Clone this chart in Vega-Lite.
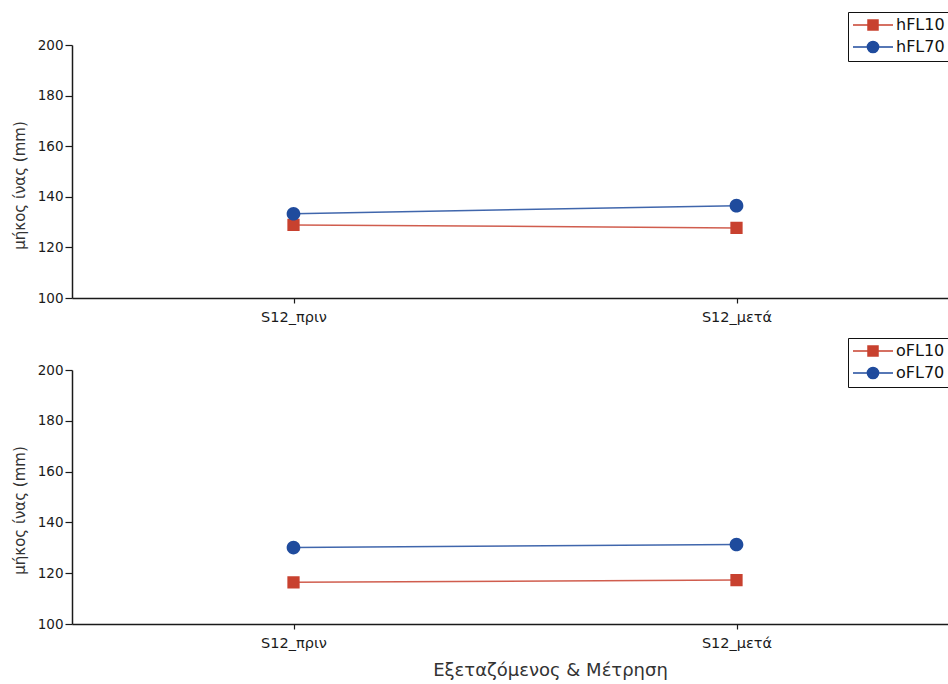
{
  "$schema": "https://vega.github.io/schema/vega-lite/v6.json",
  "padding": {"left": 12, "top": 11, "right": 0, "bottom": 0},
  "background": "white",
  "config": {
    "font": "DejaVu Sans",
    "view": {"stroke": null},
    "axis": {
      "grid": false,
      "domainColor": "#1a1a1a",
      "domainWidth": 1.5,
      "tickColor": "#1a1a1a",
      "tickWidth": 1.2,
      "labelColor": "#1a1a1a",
      "labelFont": "DejaVu Sans",
      "labelFontSize": 13.5,
      "titleFont": "DejaVu Sans",
      "titleFontWeight": "normal",
      "titleColor": "#333333"
    },
    "legend": {
      "title": null, "orient": "none", "direction": "vertical", "legendX": 776,
      "strokeColor": "#111111", "fillColor": "white", "padding": 5,
      "symbolSize": 64, "symbolOffset": 12, "labelOffset": 15, "labelFontSize": 16, "labelColor": "#111111",
      "rowPadding": 5, "symbolStrokeWidth": 1.5, "symbolOpacity": 1
    }
  },
  "data": {
    "values": [
      {"panel": "h", "series": "hFL10", "measure": "S12_πριν", "value": 128.9},
      {"panel": "h", "series": "hFL10", "measure": "S12_μετά", "value": 127.7},
      {"panel": "h", "series": "hFL70", "measure": "S12_πριν", "value": 133.3},
      {"panel": "h", "series": "hFL70", "measure": "S12_μετά", "value": 136.5},
      {"panel": "o", "series": "oFL10", "measure": "S12_πριν", "value": 116.4},
      {"panel": "o", "series": "oFL10", "measure": "S12_μετά", "value": 117.3},
      {"panel": "o", "series": "oFL70", "measure": "S12_πριν", "value": 130.1},
      {"panel": "o", "series": "oFL70", "measure": "S12_μετά", "value": 131.3}
    ]
  },
  "spacing": 72,
  "bounds": "flush",
  "resolve": {"scale": {"color": "independent", "shape": "independent"}, "legend": {"color": "independent", "shape": "independent"}},
  "vconcat": [
    {
      "width": 886,
      "height": 253,
      "transform": [{"filter": "datum.panel == 'h'"}],
      "encoding": {
        "x": {"field": "measure", "type": "ordinal", "sort": ["S12_πριν", "S12_μετά"], "scale": {"type": "point", "padding": 0.5},
          "axis": {"title": null, "labelAngle": 0, "tickSize": 5, "labelPadding": 7, "labelFontSize": 14.5}},
        "y": {"field": "value", "type": "quantitative", "scale": {"domain": [100, 200], "nice": false, "zero": false},
          "axis": {"title": "μήκος ίνας (mm)", "values": [100, 120, 140, 160, 180, 200], "tickSize": 7, "labelPadding": 2, "titlePadding": 10, "titleFontSize": 15, "titleY": 140}},
        "color": {"field": "series", "type": "nominal", "scale": {"domain": ["hFL10", "hFL70"], "range": ["#c8412f", "#1f4b9d"]},
          "legend": {"legendY": -33}}
      },
      "layer": [
        {"mark": {"type": "line", "strokeWidth": 1.5, "opacity": 0.85}},
        {"mark": {"type": "point", "filled": true, "opacity": 1, "size": 96},
          "encoding": {
            "shape": {"field": "series", "type": "nominal",
              "scale": {"domain": ["hFL10", "hFL70"], "range": ["M-5,0H5M-1.25,-1.25H1.25V1.25H-1.25Z", "M-5,0H5M1.4,0A1.4,1.4,0,1,1,-1.4,0A1.4,1.4,0,1,1,1.4,0Z"]},
              "legend": {"legendY": -33}}
          }}
      ]
    },
    {
      "width": 886,
      "height": 254,
      "transform": [{"filter": "datum.panel == 'o'"}],
      "encoding": {
        "x": {"field": "measure", "type": "ordinal", "sort": ["S12_πριν", "S12_μετά"], "scale": {"type": "point", "padding": 0.5},
          "axis": {"title": "Εξεταζόμενος & Μέτρηση", "labelAngle": 0, "tickSize": 5, "labelPadding": 7, "labelFontSize": 14.5, "titleFontSize": 18, "titlePadding": 12, "titleX": 478}},
        "y": {"field": "value", "type": "quantitative", "scale": {"domain": [100, 200], "nice": false, "zero": false},
          "axis": {"title": "μήκος ίνας (mm)", "values": [100, 120, 140, 160, 180, 200], "tickSize": 7, "labelPadding": 2, "titlePadding": 10, "titleFontSize": 15, "titleY": 140}},
        "color": {"field": "series", "type": "nominal", "scale": {"domain": ["oFL10", "oFL70"], "range": ["#c8412f", "#1f4b9d"]},
          "legend": {"legendY": -32}}
      },
      "layer": [
        {"mark": {"type": "line", "strokeWidth": 1.5, "opacity": 0.85}},
        {"mark": {"type": "point", "filled": true, "opacity": 1, "size": 96},
          "encoding": {
            "shape": {"field": "series", "type": "nominal",
              "scale": {"domain": ["oFL10", "oFL70"], "range": ["M-5,0H5M-1.25,-1.25H1.25V1.25H-1.25Z", "M-5,0H5M1.4,0A1.4,1.4,0,1,1,-1.4,0A1.4,1.4,0,1,1,1.4,0Z"]},
              "legend": {"legendY": -32}}
          }}
      ]
    }
  ]
}
